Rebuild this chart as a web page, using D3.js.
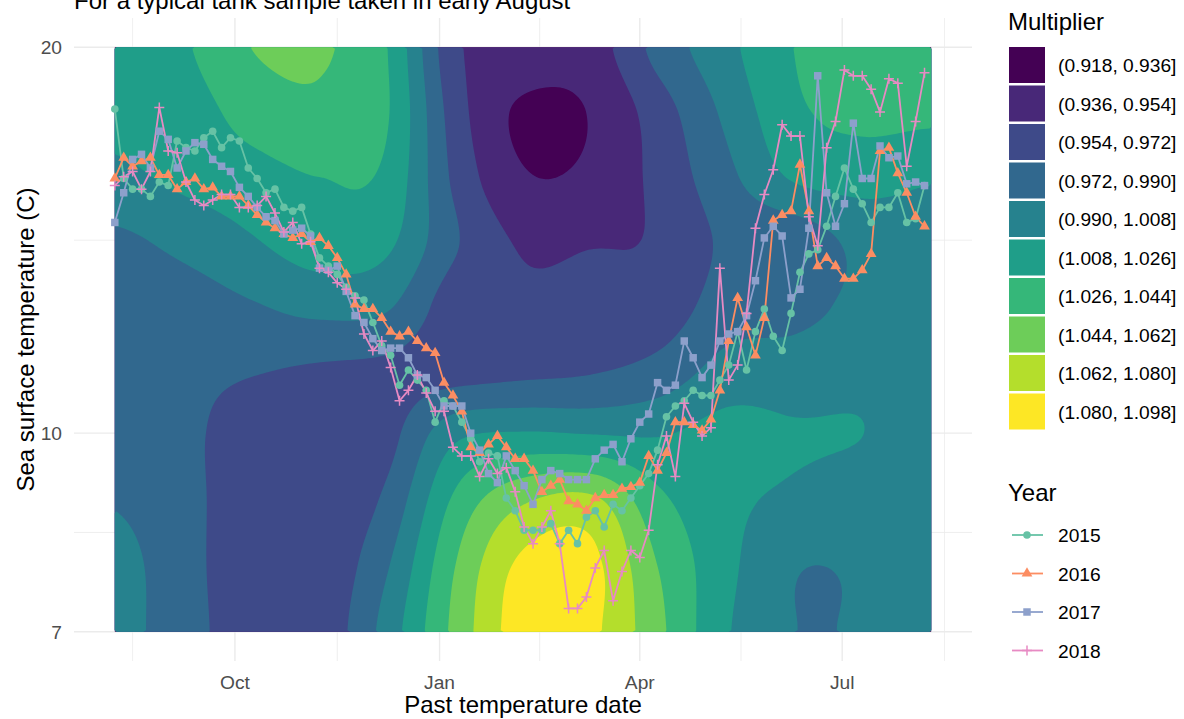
<!DOCTYPE html>
<html>
<head>
<meta charset="utf-8">
<script src="https://cdn.jsdelivr.net/npm/d3@7"></script>
<style>
  body { margin: 0; background: #fff; }
  svg { display: block; font-family: "Liberation Sans", Arial, sans-serif; }
</style>
</head>
<body>
<svg id="chart" width="1184" height="719"></svg>
<script>
// ---- data ----
const years = ["2015", "2016", "2017", "2018"];
const firstSample = "2017-08-08";   // samples every 4 days
const sampleStepDays = 4;

const t2015 = [17.9, 15.8, 15.5, 15.5, 15.3, 15.7, 15.6, 16.9, 16.7, 16.6,
  17.0, 17.2, 16.7, 17.0, 16.9, 16.1, 15.8, 15.4, 15.5, 15.0,
  14.9, 15.0, 14.3, 13.7, 13.5, 13.3, 13.0, 12.8, 12.7, 12.2,
  11.7, 11.5, 10.9, 11.2, 11.0, 10.8, 10.2, 10.6, 10.5, 10.2,
  9.9, 9.5, 9.65, 9.6, 8.9, 8.7, 8.4, 8.4, 8.4, 8.5,
  8.2, 8.4, 8.2, 8.6, 8.7, 8.45, 8.8, 8.7, 8.9, 9.1,
  9.3, 9.7, 10.3, 10.5, 10.6, 10.8, 10.7, 10.7, 11.0, 11.3,
  12.0, 11.2, 12.0, 12.5, 11.9, 11.6, 12.4, 13.35, 13.8, 13.9,
  14.5, 15.3, 16.1, 15.5, 15.1, 14.6, 15.0, 15.0, 15.4, 14.6,
  14.7, 15.6];
const t2016 = [15.8, 16.4, 16.15, 16.3, 16.4, 15.9, 15.9, 15.5, 15.7, 15.8,
  15.5, 15.55, 15.3, 15.3, 15.3, 15.05, 14.8, 14.6, 14.45, 14.3,
  14.2, 14.3, 14.1, 14.2, 14.0, 13.7, 13.3, 12.6, 12.5, 12.5,
  12.3, 12.0, 11.9, 12.0, 11.8, 11.65, 11.55, 10.95, 10.7, 10.4,
  9.75, 9.65, 9.8, 9.95, 9.75, 9.55, 9.55, 9.35, 9.0, 9.1,
  9.2, 8.85, 8.8, 8.7, 8.9, 8.95, 8.95, 9.05, 9.08, 9.15,
  9.6, 9.35, 9.65, 10.2, 10.2, 10.15, 10.05, 10.25, 10.8, 11.8,
  12.75, 12.1, 11.5, 12.3, 14.65, 14.8, 14.9, 16.2, 14.9, 13.5,
  13.7, 13.5, 13.2, 13.2, 13.4, 13.8, 16.6, 16.7, 15.95, 15.4,
  14.75, 14.5];
const t2017 = [14.6, 15.4, 16.35, 16.5, 16.1, 17.2, 16.95, 16.1, 16.6, 16.85,
  16.8, 16.35, 16.15, 16.0, 15.55, 15.3, 15.0, 14.75, 14.65, 14.3,
  14.4, 14.45, 14.25, 13.45, 13.4, 13.5, 12.9, 12.35, 12.2, 11.85,
  11.6, 11.65, 11.65, 11.45, 11.1, 11.05, 10.8, 10.5, 10.5, 10.5,
  10.0, 9.7, 9.3, 9.15, 9.6, 9.35, 9.1, 8.8, 9.2, 9.35,
  9.3, 9.2, 9.2, 9.2, 9.55, 9.7, 9.8, 9.5, 9.9, 10.2,
  10.35, 10.95, 10.8, 10.9, 11.8, 11.45, 11.05, 11.3, 11.8, 11.95,
  12.0, 12.35, 13.15, 14.2, 14.5, 14.25, 12.75, 12.95, 14.45, 19.0,
  15.4, 14.5, 15.1, 17.45, 15.8, 15.8, 16.75, 16.4, 16.45, 15.65,
  15.7, 15.6];
const t2018 = [15.6, 15.85, 16.0, 15.5, 16.0, 17.95, 16.6, 16.55, 15.7, 15.2,
  15.05, 15.2, 15.35, 15.35, 15.0, 15.0, 15.05, 15.3, 14.85, 14.35,
  14.6, 14.05, 14.1, 13.45, 13.35, 13.1, 12.95, 12.75, 11.95, 11.6,
  11.8, 11.25, 10.6, 10.8, 11.1, 10.75, 10.4, 10.4, 9.75, 9.6,
  9.6, 9.25, 9.55, 9.3, 9.4, 9.0, 8.45, 8.2, 8.45, 8.7,
  8.2, 7.3, 7.3, 7.45, 7.85, 8.1, 7.4, 7.8, 8.1, 8.0,
  8.4, 9.45, 9.95, 9.25, 10.55, 10.2, 9.95, 10.1, 13.45, 11.0,
  11.3, 12.4, 14.45, 15.35, 16.05, 17.4, 17.05, 17.05, 14.75, 14.0,
  16.7, 17.5, 19.2, 19.0, 19.0, 18.55, 17.8, 18.9, 18.75, 16.15,
  17.5, 19.1];

// multiplier surface: one row per temperature, one column per date
const gridDates = ["2017-08-08", "2017-09-08", "2017-10-08", "2017-11-08", "2017-12-08",
  "2018-01-08", "2018-02-07", "2018-03-10", "2018-04-09", "2018-05-10",
  "2018-06-09", "2018-07-10", "2018-08-10"];
const gridTemps = [20.0, 17.80, 15.84, 14.09, 12.54, 11.16, 9.93, 8.84, 7.87, 7.00];
const mult200 = [1.017, 1.024, 1.044, 1.046, 1.027, 0.958, 0.949, 0.946, 0.978, 1.003, 1.026, 1.035, 1.033];
const mult178 = [1.013, 1.017, 1.033, 1.040, 1.028, 0.963, 0.933, 0.937, 0.963, 0.994, 1.022, 1.031, 1.030];
const mult158 = [1.004, 1.012, 1.019, 1.026, 1.022, 0.968, 0.938, 0.940, 0.959, 0.985, 1.010, 1.015, 1.010];
const mult141 = [0.986, 0.995, 1.006, 1.017, 1.012, 0.974, 0.952, 0.953, 0.956, 0.975, 0.978, 0.995, 0.998];
const mult125 = [0.979, 0.981, 0.988, 0.995, 0.992, 0.962, 0.958, 0.960, 0.961, 0.981, 0.984, 0.995, 1.001];
const mult112 = [0.977, 0.976, 0.973, 0.969, 0.967, 0.965, 0.968, 0.971, 0.979, 0.997, 0.999, 1.004, 1.003];
const mult099 = [0.981, 0.976, 0.963, 0.960, 0.966, 1.005, 1.012, 1.010, 1.008, 1.015, 1.010, 1.008, 1.001];
const mult088 = [0.989, 0.978, 0.961, 0.959, 0.976, 1.030, 1.060, 1.067, 1.031, 1.013, 1.004, 0.999, 0.999];
const mult079 = [0.996, 0.979, 0.960, 0.959, 0.988, 1.044, 1.084, 1.085, 1.044, 1.013, 0.9915, 0.992, 0.997];
const mult070 = [0.996, 0.980, 0.961, 0.960, 0.997, 1.049, 1.089, 1.084, 1.049, 1.010, 0.9905, 0.9915, 0.996];

const multiplierBreaks = [0.918, 0.936, 0.954, 0.972, 0.990, 1.008, 1.026, 1.044, 1.062, 1.080, 1.098];
const tempTicks = [7, 10, 20];

// ---- style ----
const bandColors = ["#440154", "#482878", "#3E4A89", "#31688E", "#26828E",
  "#1F9E89", "#35B779", "#6DCD59", "#B4DE2C", "#FDE725"];
const yearColors = ["#66C2A5", "#FC8D62", "#8DA0CB", "#E78AC3"];
const gridColor = "#EBEBEB";

const svg = d3.select("#chart");
const parseDay = d3.utcParse("%Y-%m-%d");

// panel
const panelL = 74, panelR = 972, panelT = 18, panelB = 661;
const padX = (panelR - panelL) * 0.05 / 1.1;
const padY = (panelB - panelT) * 0.05 / 1.1;

const x = d3.scaleUtc()
  .domain([parseDay(gridDates[0]), parseDay(gridDates[gridDates.length - 1])])
  .range([panelL + padX, panelR - padX]);
const y = d3.scaleLog()
  .domain([7, 20])
  .range([panelB - padY, panelT + padY]);

// grid lines
const majorX = d3.utcMonth.every(3).range(parseDay("2017-07-01"), parseDay("2018-11-01"));
const minorX = d3.pairs(majorX).map(([a, b]) => new Date((+a + +b) / 2));
const minorY = d3.pairs(tempTicks).map(([a, b]) => Math.sqrt(a * b));

const grid = svg.append("g");
grid.selectAll("line.minx").data(minorX.filter(d => x(d) > panelL && x(d) < panelR)).join("line")
  .attr("x1", d => x(d)).attr("x2", d => x(d)).attr("y1", panelT).attr("y2", panelB)
  .attr("stroke", gridColor).attr("stroke-width", 0.8);
grid.selectAll("line.miny").data(minorY).join("line")
  .attr("x1", panelL).attr("x2", panelR).attr("y1", d => y(d)).attr("y2", d => y(d))
  .attr("stroke", gridColor).attr("stroke-width", 0.8);
const xTicks = majorX.filter(d => x(d) > panelL && x(d) < panelR);
grid.selectAll("line.majx").data(xTicks).join("line")
  .attr("x1", d => x(d)).attr("x2", d => x(d)).attr("y1", panelT).attr("y2", panelB)
  .attr("stroke", gridColor).attr("stroke-width", 1.4);
grid.selectAll("line.majy").data(tempTicks).join("line")
  .attr("x1", panelL).attr("x2", panelR).attr("y1", d => y(d)).attr("y2", d => y(d))
  .attr("stroke", gridColor).attr("stroke-width", 1.4);

// ---- filled contours ----
const multGrid = [mult200, mult178, mult158, mult141, mult125, mult112, mult099, mult088, mult079, mult070];
const colIndex = d3.scaleUtc().domain(gridDates.map(parseDay)).range(d3.range(gridDates.length)).clamp(true);
const rowIndex = d3.scaleLog().domain(gridTemps).range(d3.range(gridTemps.length)).clamp(true);

function cubic(p0, p1, p2, p3, t) {
  return p1 + 0.5 * t * (p2 - p0 + t * (2 * p0 - 5 * p1 + 4 * p2 - p3 + t * (3 * (p1 - p2) + p3 - p0)));
}
function gridAt(r, c) {
  r = Math.max(0, Math.min(multGrid.length - 1, r));
  c = Math.max(0, Math.min(multGrid[0].length - 1, c));
  return multGrid[r][c];
}
function sample(ri, ci) {
  const r = Math.floor(ri), c = Math.floor(ci);
  const tr = ri - r, tc = ci - c;
  const rows = [-1, 0, 1, 2].map(dr =>
    cubic(gridAt(r + dr, c - 1), gridAt(r + dr, c), gridAt(r + dr, c + 1), gridAt(r + dr, c + 2), tc));
  return cubic(rows[0], rows[1], rows[2], rows[3], tr);
}

const x0 = x.range()[0], x1 = x.range()[1];
const y0 = y.range()[1], y1 = y.range()[0];
const nx = 272, ny = 195;
const dx = (x1 - x0) / nx, dy = (y1 - y0) / ny;
const values = new Array(nx * ny);
for (let j = 0; j < ny; j++) {
  const ri = rowIndex(y.invert(y0 + (j + 0.5) * dy));
  for (let i = 0; i < nx; i++) {
    const ci = colIndex(x.invert(x0 + (i + 0.5) * dx));
    values[j * nx + i] = sample(ri, ci);
  }
}
const contours = d3.contours().size([nx, ny])
  .thresholds(multiplierBreaks.slice(1, 10))(values);
const gridPath = d3.geoPath(d3.geoTransform({
  point(px, py) { this.stream.point(x0 + px * dx, y0 + py * dy); }
}));

const fills = svg.append("g");
fills.append("rect").attr("x", x0).attr("y", y0).attr("width", x1 - x0).attr("height", y1 - y0)
  .attr("fill", bandColors[0]);
fills.selectAll("path").data(contours).join("path")
  .attr("d", gridPath)
  .attr("fill", (d, k) => bandColors[k + 1]);

// ---- temperature series ----
const start = parseDay(firstSample);
const series = [t2015, t2016, t2017, t2018].map((temps, k) => ({
  year: years[k],
  color: yearColors[k],
  points: temps.map((t, i) => ({ date: d3.utcDay.offset(start, i * sampleStepDays), temp: t }))
}));

const line = d3.line().x(d => x(d.date)).y(d => y(d.temp));
svg.append("g").selectAll("path").data(series).join("path")
  .attr("d", d => line(d.points))
  .attr("fill", "none")
  .attr("stroke", d => d.color)
  .attr("stroke-width", 1.8)
  .attr("stroke-linejoin", "round");

function drawMarker(sel, k, color) {
  if (k === 0) {
    sel.append("circle").attr("r", 3.8).attr("fill", color);
  } else if (k === 1) {
    sel.append("path").attr("d", d3.symbol(d3.symbolTriangle, 50)()).attr("fill", color);
  } else if (k === 2) {
    sel.append("path").attr("d", d3.symbol(d3.symbolSquare, 56)()).attr("fill", color);
  } else {
    sel.append("path").attr("d", "M-5,0H5M0,-5V5")
      .attr("stroke", color).attr("stroke-width", 1.5).attr("fill", "none");
  }
}

series.forEach((s, k) => {
  svg.append("g").selectAll("g").data(s.points).join("g")
    .attr("transform", d => `translate(${x(d.date)},${y(d.temp)})`)
    .each(function () { drawMarker(d3.select(this), k, s.color); });
});

// ---- axes ----
const tickColor = "#4D4D4D";
svg.append("g").selectAll("text").data(tempTicks).join("text")
  .attr("x", 62).attr("y", d => y(d) + 7)
  .attr("text-anchor", "end").attr("font-size", 19.2).attr("fill", tickColor)
  .text(d => d);
svg.append("g").selectAll("text").data(xTicks).join("text")
  .attr("x", d => x(d)).attr("y", 689)
  .attr("text-anchor", "middle").attr("font-size", 19.2).attr("fill", tickColor)
  .text(d3.utcFormat("%b"));

svg.append("text")
  .attr("x", (panelL + panelR) / 2).attr("y", 713)
  .attr("text-anchor", "middle").attr("font-size", 24).attr("fill", "#000")
  .text("Past temperature date");
svg.append("text")
  .attr("transform", `translate(34,${(panelT + panelB) / 2}) rotate(-90)`)
  .attr("text-anchor", "middle").attr("font-size", 24).attr("fill", "#000")
  .text("Sea surface temperature (C)");

// subtitle, mostly cut off by the top edge (as in the source image)
svg.append("text")
  .attr("x", 74).attr("y", 9)
  .attr("font-size", 24).attr("fill", "#000")
  .text("For a typical tank sample taken in early August");

// ---- legends ----
const legX = 1009;
const fmt = d3.format(".3f");
svg.append("text").attr("x", 1008).attr("y", 30).attr("font-size", 24).text("Multiplier");
const bandLeg = svg.append("g").selectAll("g").data(d3.range(10)).join("g")
  .attr("transform", k => `translate(${legX},${47 + k * 38.5})`);
bandLeg.append("rect").attr("width", 36).attr("height", 36).attr("fill", k => bandColors[k]);
bandLeg.append("text").attr("x", 49).attr("y", 25).attr("font-size", 19.2)
  .text(k => `(${fmt(multiplierBreaks[k])}, ${fmt(multiplierBreaks[k + 1])}]`);

svg.append("text").attr("x", 1008).attr("y", 501).attr("font-size", 24).text("Year");
const yearLeg = svg.append("g").selectAll("g").data(series).join("g")
  .attr("transform", (d, k) => `translate(${legX},${535 + k * 38.5})`);
yearLeg.append("line").attr("x1", 3).attr("x2", 34).attr("stroke", d => d.color).attr("stroke-width", 1.8);
yearLeg.each(function (d, k) {
  drawMarker(d3.select(this).append("g").attr("transform", "translate(18,0)"), k, d.color);
});
yearLeg.append("text").attr("x", 49).attr("y", 7).attr("font-size", 19.2).text(d => d.year);
</script>
</body>
</html>
